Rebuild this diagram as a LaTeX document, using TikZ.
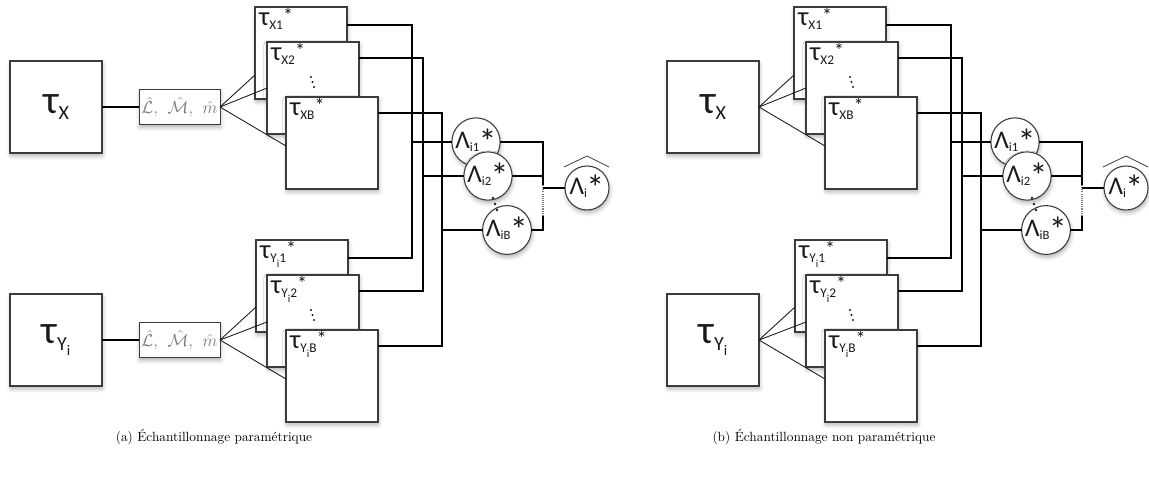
\RequirePackage{fix-cm}
\documentclass[tikz,border=0pt]{standalone}
\usepackage{fontspec}
\newfontfamily\lbl{Carlito}
\usetikzlibrary{calc,shadows.blur}
\definecolor{boxgray}{HTML}{3C3C3C}
\definecolor{txtgray}{HTML}{7A7A7A}
\definecolor{inkc}{HTML}{1A1A1A}
\newcommand\bigtau[1]{{\lbl\fontsize{30}{30}\selectfont τ\raisebox{-5pt}{\fontsize{15}{15}\selectfont #1}}}
\newcommand\stk[1]{{\lbl\fontsize{20}{20}\selectfont τ\raisebox{-3.5pt}{\fontsize{10}{10}\selectfont #1}\raisebox{2pt}{\fontsize{15}{15}\selectfont *}}}
\newcommand\ysub[1]{Y\raisebox{-3.5pt}{\fontsize{8}{8}\selectfont i}#1}
\newcommand\lam[1]{{\lbl\fontsize{19}{19}\selectfont Λ\raisebox{-2pt}{\fontsize{9.5}{9.5}\selectfont #1}\kern-0.5pt\raisebox{-4.5pt}{\fontsize{27}{27}\selectfont *}}}
\tikzset{
  shad/.style={blur shadow={shadow xshift=0.6pt, shadow yshift=-2.2pt, shadow blur radius=3pt, shadow opacity=30}},
  sbox/.style={draw=boxgray, line width=0.8pt, fill=white, minimum width=69pt, minimum height=69pt, inner sep=0pt, outer sep=0pt, anchor=north west, shad},
  bigbox/.style={sbox, text=inkc},
  pbox/.style={draw=boxgray, line width=0.7pt, fill=white, minimum width=60.75pt, minimum height=26.25pt, inner sep=0pt, outer sep=0pt, anchor=north west, shad, text=txtgray, font=\fontsize{13}{13}\selectfont},
  lab/.style={anchor=base west, inner sep=0pt, outer sep=0pt, text=inkc},
  lcirc/.style={circle, draw=boxgray, line width=0.8pt, fill=white, minimum size=33pt, inner sep=0pt, outer sep=0pt, text=inkc, shad},
  wire/.style={line width=1.5pt, draw=black},
  fan/.style={line width=0.65pt, draw=inkc},
  dotline/.style={line width=0.9pt, draw=gray, dash pattern=on 0.8pt off 0.8pt},
  hatline/.style={line width=0.6pt, draw=boxgray},
  captxt/.style={font=\fontsize{10}{12}\selectfont, inner sep=0pt},
}
\newcommand\boxdots[1]{%
  \fill[inkc] ($(#1.north west)+(44,35)$) circle (1.2);
  \fill[inkc] ($(#1.north west)+(45.5,40)$) circle (1.2);
  \fill[inkc] ($(#1.north west)+(47,45)$) circle (1.2);
}
\newcommand\stacks[1]{%
  % X stack
  \node[sbox] (#1X1) at (255,7) {};
  \node[lab] (#1tX1) at ($(#1X1.north west)+(4,18)$) {\stk{X1}};
  \node[sbox] (#1X2) at (267,42) {};
  \node[lab] (#1tX2) at ($(#1X2.north west)+(4,18)$) {\stk{X2}};
  \boxdots{#1X2}
  \node[sbox] (#1XB) at (286,97) {};
  \node[lab] (#1tXB) at ($(#1XB.north west)+(4,18)$) {\stk{XB}};
  % Y stack
  \node[sbox] (#1Y1) at (256,240) {};
  \node[lab] (#1tY1) at ($(#1Y1.north west)+(4,18)$) {\stk{\ysub{1}}};
  \node[sbox] (#1Y2) at (267,275) {};
  \node[lab] (#1tY2) at ($(#1Y2.north west)+(4,18)$) {\stk{\ysub{2}}};
  \boxdots{#1Y2}
  \node[sbox] (#1YB) at (286,330) {};
  \node[lab] (#1tYB) at ($(#1YB.north west)+(4,18)$) {\stk{\ysub{B}}};
  % circles
  \node[lcirc] (#1L1) at (476,142) {\lam{i1}};
  \node[lcirc] (#1L2) at (488,176) {\lam{i2}};
  \node[lcirc] (#1LB) at (507,230) {\lam{iB}};
  \node[lcirc] (#1L) at (587,188) {\lam{i}};
  \draw[hatline] ($(#1L.center)+(-23,-21)$) -- ($(#1L.center)+(0,-32)$) -- ($(#1L.center)+(22,-21)$);
  \fill[inkc] (493,198) circle (1.4);
  \fill[inkc] (495,204) circle (1.4);
  \fill[inkc] (497,210) circle (1.4);
  % junctions
  \coordinate (#1j1) at (412,142);
  \coordinate (#1j2) at (423,176);
  \coordinate (#1jB) at (442,230);
  \draw[wire] ($(#1X1.north east)+(0,18)$) -| (#1j1) |- ($(#1Y1.north east)+(0,18)$);
  \draw[wire] (#1j1) -- (#1L1);
  \draw[wire] ($(#1X2.north east)+(0,16)$) -| (#1j2) |- ($(#1Y2.north east)+(0,16)$);
  \draw[wire] (#1j2) -- (#1L2);
  \draw[wire] ($(#1XB.north east)+(0,16)$) -| (#1jB) |- ($(#1YB.north east)+(0,16)$);
  \draw[wire] (#1jB) -- (#1LB);
  % right side
  \coordinate (#1k1) at (543,142);
  \coordinate (#1k2) at (543,176);
  \coordinate (#1kB) at (543,230);
  \coordinate (#1kd1) at (543,185);
  \coordinate (#1kd2) at (543,215);
  \coordinate (#1km) at (543,188);
  \draw[wire] (#1L1) -- (#1k1) -- (#1kd1);
  \draw[wire] (#1L2) -- (#1k2);
  \draw[wire] (#1LB) -- (#1kB) -- (#1kd2);
  \draw[dotline] (#1kd1) -- (#1kd2);
  \draw[wire] (#1km) -- (#1L);
}
\newcommand\fans[3]{% #1 prefix, #2 X source, #3 Y source
  \draw[fan] (#2.east) -- ($(#1X1.north west)+(0,68)$);
  \draw[fan] (#2.east) -- ($(#1X2.north west)+(0,46)$);
  \draw[fan] (#2.east) -- ($(#1XB.north west)+(0,49)$);
  \draw[fan] (#3.east) -- ($(#1Y1.north west)+(0,67)$);
  \draw[fan] (#3.east) -- ($(#1Y2.north west)+(0,47)$);
  \draw[fan] (#3.east) -- ($(#1YB.north west)+(0,49)$);
}
\begin{document}
\begin{tikzpicture}[x=0.75pt,y=-0.75pt]
\useasboundingbox (0,0) rectangle (1149,490);
% ---------- panel (a)
\node[bigbox] (aTX) at (10,61) {\bigtau{X}};
\node[bigbox] (aTY) at (10,294) {\bigtau{Y\raisebox{-4pt}{\fontsize{11}{11}\selectfont i}}};
\node[pbox] (aPX) at (139,89.5) {$\hat{\mathcal{L}},\hspace{5pt}\hat{\mathcal{M}},\hspace{5pt}\hat{m}$};
\node[pbox] (aPY) at (139,322.5) {$\hat{\mathcal{L}},\hspace{5pt}\hat{\mathcal{M}},\hspace{5pt}\hat{m}$};
\draw[wire] (aTX.east) -- (aPX.west);
\draw[wire] (aTY.east) -- (aPY.west);
\stacks{a}
\fans{a}{aPX}{aPY}
% ---------- panel (b)
\node[bigbox] (bTX) at (667,61) {\bigtau{X}};
\node[bigbox] (bTY) at (667,294) {\bigtau{Y\raisebox{-4pt}{\fontsize{11}{11}\selectfont i}}};
\begin{scope}[shift={(539,0)}]
\stacks{b}
\end{scope}
\fans{b}{bTX}{bTY}
% captions
\node[captxt] (capa) at (214,437) {(a) Échantillonnage paramétrique};
\node[captxt] (capb) at (824,437) {(b) Échantillonnage non paramétrique};
\end{tikzpicture}
\end{document}
